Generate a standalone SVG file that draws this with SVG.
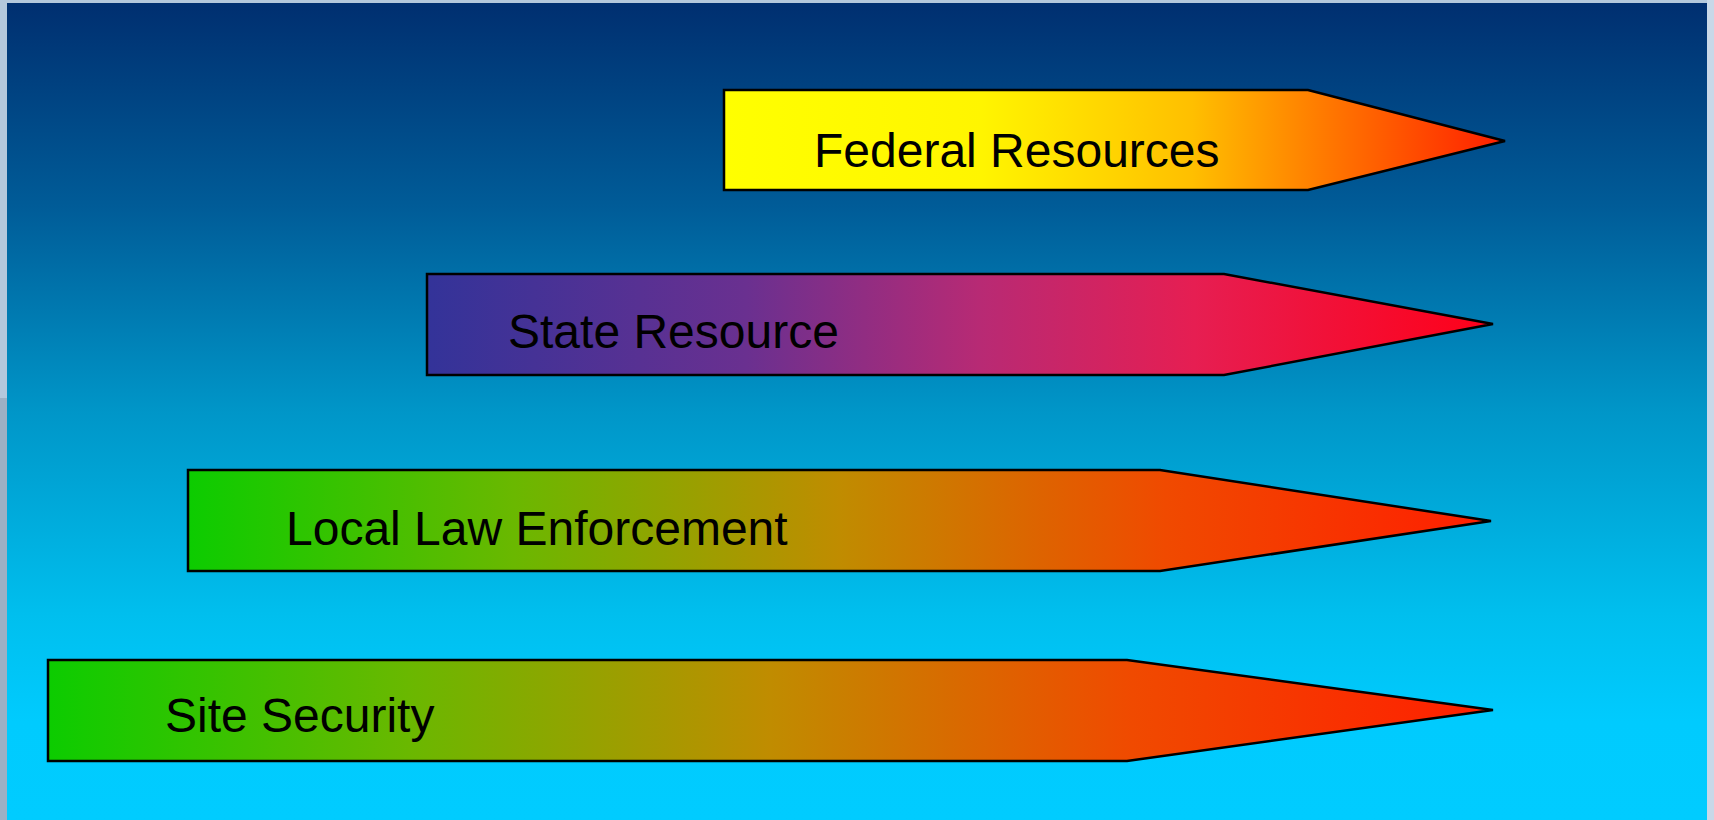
<svg xmlns="http://www.w3.org/2000/svg" width="1714" height="820" viewBox="0 0 1714 820">
<style>
.arrow{stroke:#000;stroke-width:2.5;stroke-linejoin:miter}
.lbl{font-family:"Liberation Sans",Arial,sans-serif;font-size:48px;fill:#000}
</style>
<defs>
<linearGradient id="bg" x1="0" y1="0" x2="0" y2="1">
<stop offset="0" stop-color="#002f70"/>
<stop offset="0.25" stop-color="#005c98"/>
<stop offset="0.5" stop-color="#0096c8"/>
<stop offset="0.75" stop-color="#00bfee"/>
<stop offset="0.88" stop-color="#00cbfe"/>
<stop offset="1" stop-color="#00ccff"/>
</linearGradient>
<linearGradient id="gFed" x1="0" y1="0" x2="1" y2="0">
<stop offset="0" stop-color="#ffff00"/>
<stop offset="0.33" stop-color="#fff500"/>
<stop offset="0.6" stop-color="#ffbf00"/>
<stop offset="0.76" stop-color="#ff7d00"/>
<stop offset="1" stop-color="#ff1e00"/>
</linearGradient>
<linearGradient id="gState" x1="0" y1="0" x2="1" y2="0">
<stop offset="0" stop-color="#333399"/>
<stop offset="0.3" stop-color="#6a3090"/>
<stop offset="0.52" stop-color="#b82a74"/>
<stop offset="0.72" stop-color="#e61e52"/>
<stop offset="1" stop-color="#ff0018"/>
</linearGradient>
<linearGradient id="gGreen" x1="0" y1="0" x2="1" y2="0">
<stop offset="0" stop-color="#0ccc00"/>
<stop offset="0.25" stop-color="#6ab800"/>
<stop offset="0.5" stop-color="#c08c00"/>
<stop offset="0.75" stop-color="#f04a00"/>
<stop offset="1" stop-color="#ff1e00"/>
</linearGradient>
</defs>
<rect x="0" y="0" width="1714" height="820" fill="#b4c8dc"/>
<rect x="0" y="398" width="7" height="422" fill="#9cb0c4"/>
<rect x="1707" y="0" width="7" height="820" fill="#c8d8e8"/>
<rect x="7" y="3" width="1700" height="817" fill="url(#bg)"/>
<g id="connectors"/>
<g id="federal">
<polygon class="arrow" fill="url(#gFed)" points="724,90 1308,90 1505,141 1308,190 724,190"/>
<text class="lbl" x="814" y="167">Federal Resources</text>
</g>
<g id="state">
<polygon class="arrow" fill="url(#gState)" points="427,274 1224,274 1493,324 1224,375 427,375"/>
<text class="lbl" x="508" y="348">State Resource</text>
</g>
<g id="local">
<polygon class="arrow" fill="url(#gGreen)" points="188,470 1160,470 1491,521 1160,571 188,571"/>
<text class="lbl" x="286" y="545">Local Law Enforcement</text>
</g>
<g id="site">
<polygon class="arrow" fill="url(#gGreen)" points="48,660 1127,660 1493,710 1127,761 48,761"/>
<text class="lbl" x="165" y="732">Site Security</text>
</g>
</svg>
